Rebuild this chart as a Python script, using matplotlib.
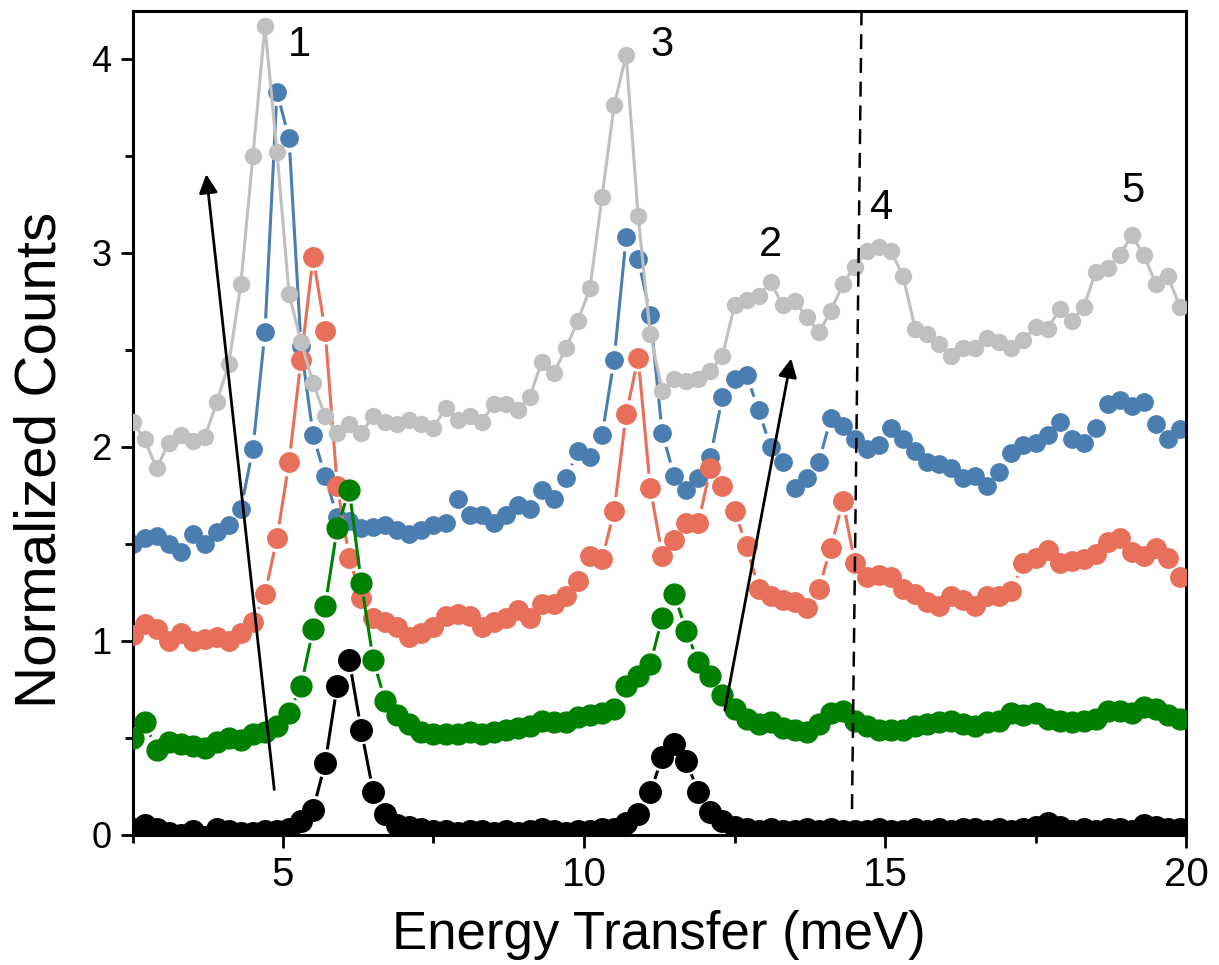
import numpy as np
import matplotlib
matplotlib.use("Agg")
from matplotlib import pyplot as plt
from matplotlib.ticker import MultipleLocator
from matplotlib.collections import LineCollection

plt.rcParams['font.family'] = ['Liberation Sans', 'DejaVu Sans']

# energy grid (meV), 0.2 meV steps
energy = np.round(np.arange(2.5, 20.0, 0.2), 1)

black = [0.03, 0.05, 0.03, 0.01, 0.00, 0.02, -0.01, 0.03, 0.02, 0.01,
         0.01, 0.02, 0.02, 0.03, 0.07, 0.13, 0.37, 0.77, 0.90, 0.54,
         0.22, 0.11, 0.05, 0.04, 0.03, 0.02, 0.02, 0.01, 0.02, 0.02,
         0.01, 0.02, 0.01, 0.02, 0.03, 0.02, 0.01, 0.02, 0.02, 0.03,
         0.03, 0.06, 0.11, 0.22, 0.40, 0.47, 0.38, 0.22, 0.12, 0.07,
         0.04, 0.03, 0.02, 0.03, 0.02, 0.02, 0.03, 0.02, 0.03, 0.02,
         0.02, 0.02, 0.03, 0.02, 0.02, 0.03, 0.02, 0.03, 0.02, 0.03,
         0.03, 0.02, 0.03, 0.02, 0.03, 0.04, 0.06, 0.04, 0.02, 0.03,
         0.02, 0.03, 0.03, 0.02, 0.05, 0.04, 0.03, 0.03]

green = [0.50, 0.58, 0.44, 0.48, 0.47, 0.46, 0.45, 0.48, 0.50, 0.49,
         0.52, 0.53, 0.56, 0.63, 0.77, 1.06, 1.18, 1.58, 1.78, 1.30,
         0.90, 0.69, 0.62, 0.57, 0.53, 0.52, 0.52, 0.52, 0.53, 0.52,
         0.53, 0.54, 0.55, 0.56, 0.59, 0.58, 0.58, 0.61, 0.62, 0.63,
         0.65, 0.77, 0.82, 0.88, 1.12, 1.24, 1.05, 0.89, 0.82, 0.72,
         0.65, 0.60, 0.57, 0.58, 0.55, 0.54, 0.53, 0.57, 0.63, 0.64,
         0.59, 0.56, 0.54, 0.54, 0.54, 0.56, 0.57, 0.58, 0.59, 0.57,
         0.56, 0.58, 0.59, 0.63, 0.62, 0.63, 0.60, 0.59, 0.58, 0.59,
         0.60, 0.64, 0.64, 0.63, 0.66, 0.65, 0.62, 0.60]

salmon = [1.03, 1.09, 1.06, 1.00, 1.04, 1.00, 1.01, 1.02, 1.00, 1.04,
          1.10, 1.24, 1.53, 1.92, 2.45, 2.98, 2.60, 1.80, 1.43, 1.22,
          1.12, 1.10, 1.07, 1.02, 1.04, 1.07, 1.13, 1.14, 1.13, 1.07,
          1.10, 1.12, 1.16, 1.12, 1.19, 1.19, 1.23, 1.31, 1.44, 1.42,
          1.67, 2.17, 2.46, 1.79, 1.44, 1.52, 1.61, 1.61, 1.89, 1.80,
          1.67, 1.49, 1.27, 1.23, 1.21, 1.20, 1.17, 1.27, 1.48, 1.72,
          1.40, 1.33, 1.34, 1.33, 1.27, 1.24, 1.20, 1.18, 1.23, 1.21,
          1.18, 1.23, 1.23, 1.26, 1.40, 1.43, 1.47, 1.40, 1.41, 1.42,
          1.45, 1.51, 1.53, 1.46, 1.44, 1.48, 1.43, 1.33]

blue = [1.50, 1.53, 1.54, 1.50, 1.46, 1.55, 1.50, 1.56, 1.60, 1.68,
        1.99, 2.59, 3.83, 3.59, 2.52, 2.06, 1.85, 1.64, 1.62, 1.58,
        1.59, 1.60, 1.57, 1.55, 1.57, 1.60, 1.61, 1.73, 1.65, 1.65,
        1.61, 1.65, 1.70, 1.68, 1.78, 1.73, 1.84, 1.98, 1.95, 2.06,
        2.45, 3.08, 2.97, 2.68, 2.07, 1.85, 1.78, 1.84, 1.95, 2.26,
        2.35, 2.37, 2.19, 2.00, 1.92, 1.79, 1.84, 1.92, 2.15, 2.11,
        2.04, 1.99, 2.01, 2.10, 2.04, 1.98, 1.92, 1.91, 1.89, 1.84,
        1.85, 1.80, 1.87, 1.97, 2.01, 2.02, 2.06, 2.13, 2.04, 2.02,
        2.10, 2.22, 2.24, 2.21, 2.23, 2.12, 2.04, 2.09]

grey = [2.13, 2.04, 1.89, 2.02, 2.06, 2.03, 2.05, 2.23, 2.43, 2.84,
        3.50, 4.17, 3.52, 2.79, 2.54, 2.33, 2.16, 2.07, 2.12, 2.07,
        2.16, 2.13, 2.12, 2.14, 2.12, 2.10, 2.20, 2.14, 2.16, 2.13,
        2.22, 2.22, 2.19, 2.26, 2.44, 2.38, 2.51, 2.65, 2.82, 3.29,
        3.76, 4.02, 3.19, 2.58, 2.29, 2.35, 2.34, 2.35, 2.39, 2.47,
        2.73, 2.76, 2.78, 2.85, 2.73, 2.75, 2.67, 2.59, 2.70, 2.84,
        2.93, 3.01, 3.03, 3.01, 2.88, 2.61, 2.58, 2.53, 2.47, 2.51,
        2.51, 2.56, 2.54, 2.51, 2.55, 2.62, 2.61, 2.71, 2.65, 2.72,
        2.90, 2.92, 2.99, 3.09, 2.99, 2.84, 2.88, 2.72]

peak_labels = ['1', '3', '2', '4', '5']
peak_x = [5.28, 11.3, 13.1, 14.95, 19.12]
peak_y = [4.07, 4.07, 3.04, 3.23, 3.32]


def gapped_lines(ax, x, y, gap):
    """line segments between points, cut back by `gap` pixels at each end
    (Origin-style 'gap to symbol')"""
    pts = ax.transData.transform(np.column_stack([x, y]))
    inv = ax.transData.inverted()
    segs = []
    for p, q in zip(pts[:-1], pts[1:]):
        d = q - p
        L = np.hypot(d[0], d[1])
        if L <= 2 * gap:
            continue
        u = d / L
        segs.append(inv.transform(np.array([p + u * gap, q - u * gap])))
    return segs


fig = plt.figure(figsize=(12.19, 9.65), dpi=100)
ax = fig.add_axes([132.5 / 1219, 1 - 835 / 965, (1186 - 132.5) / 1219, 824 / 965])
ax.set_xlim(2.5, 20)
ax.set_ylim(0, 4.247)

# (values, colour, marker size, z-order, gap to symbol in px)
series = [
    (blue, '#4a7eb0', 12.5, 2, 14),
    (salmon, '#e8705a', 14.0, 3, 14),
    (grey, '#c0c0c0', 11.5, 4, 0),
    (green, '#008000', 15.0, 5, 14),
    (black, '#000000', 15.5, 6, 14),
]
for vals, col, ms, z, gap in series:
    if gap > 0:
        lc = LineCollection(gapped_lines(ax, energy, vals, gap), colors=col,
                            linewidths=2.2, capstyle='butt', zorder=z)
        ax.add_collection(lc)
    else:
        ax.plot(energy, vals, '-', color=col, lw=2.2, zorder=z)
    ax.plot(energy, vals, 'o', color=col, ms=ms, mec=col, zorder=z)

# dashed marker line and trend arrows
ax.plot([14.61, 14.45], [4.25, 0.09], '--', color='k', lw=1.8,
        dashes=(6, 3.5), zorder=8)
ax.annotate('', xy=(3.72, 3.42), xytext=(4.86, 0.22),
            arrowprops=dict(arrowstyle='-|>', color='k', lw=2.0, mutation_scale=28),
            zorder=9)
ax.annotate('', xy=(13.45, 2.47), xytext=(12.33, 0.63),
            arrowprops=dict(arrowstyle='-|>', color='k', lw=2.0, mutation_scale=28),
            zorder=9)

for lab, px, py in zip(peak_labels, peak_x, peak_y):
    ax.text(px, py, lab, fontsize=30, ha='center', va='center', zorder=10)

ax.xaxis.set_major_locator(MultipleLocator(5))
ax.xaxis.set_minor_locator(MultipleLocator(2.5))
ax.yaxis.set_major_locator(MultipleLocator(1))
ax.yaxis.set_minor_locator(MultipleLocator(0.5))
ax.tick_params(which='major', direction='out', length=9, width=2)
ax.tick_params(which='minor', direction='out', length=6, width=2)
ax.tick_params(axis='x', labelsize=29, pad=6)
ax.tick_params(axis='y', labelsize=26, pad=6)
for sp in ax.spines.values():
    sp.set_linewidth(2.2)

ax.set_xlabel('Energy Transfer (meV)', fontsize=38, labelpad=12)
ax.set_ylabel('Normalized Counts', fontsize=42)
ax.yaxis.set_label_coords(-0.062, 0.455)

fig.savefig('out.png', dpi=100)
